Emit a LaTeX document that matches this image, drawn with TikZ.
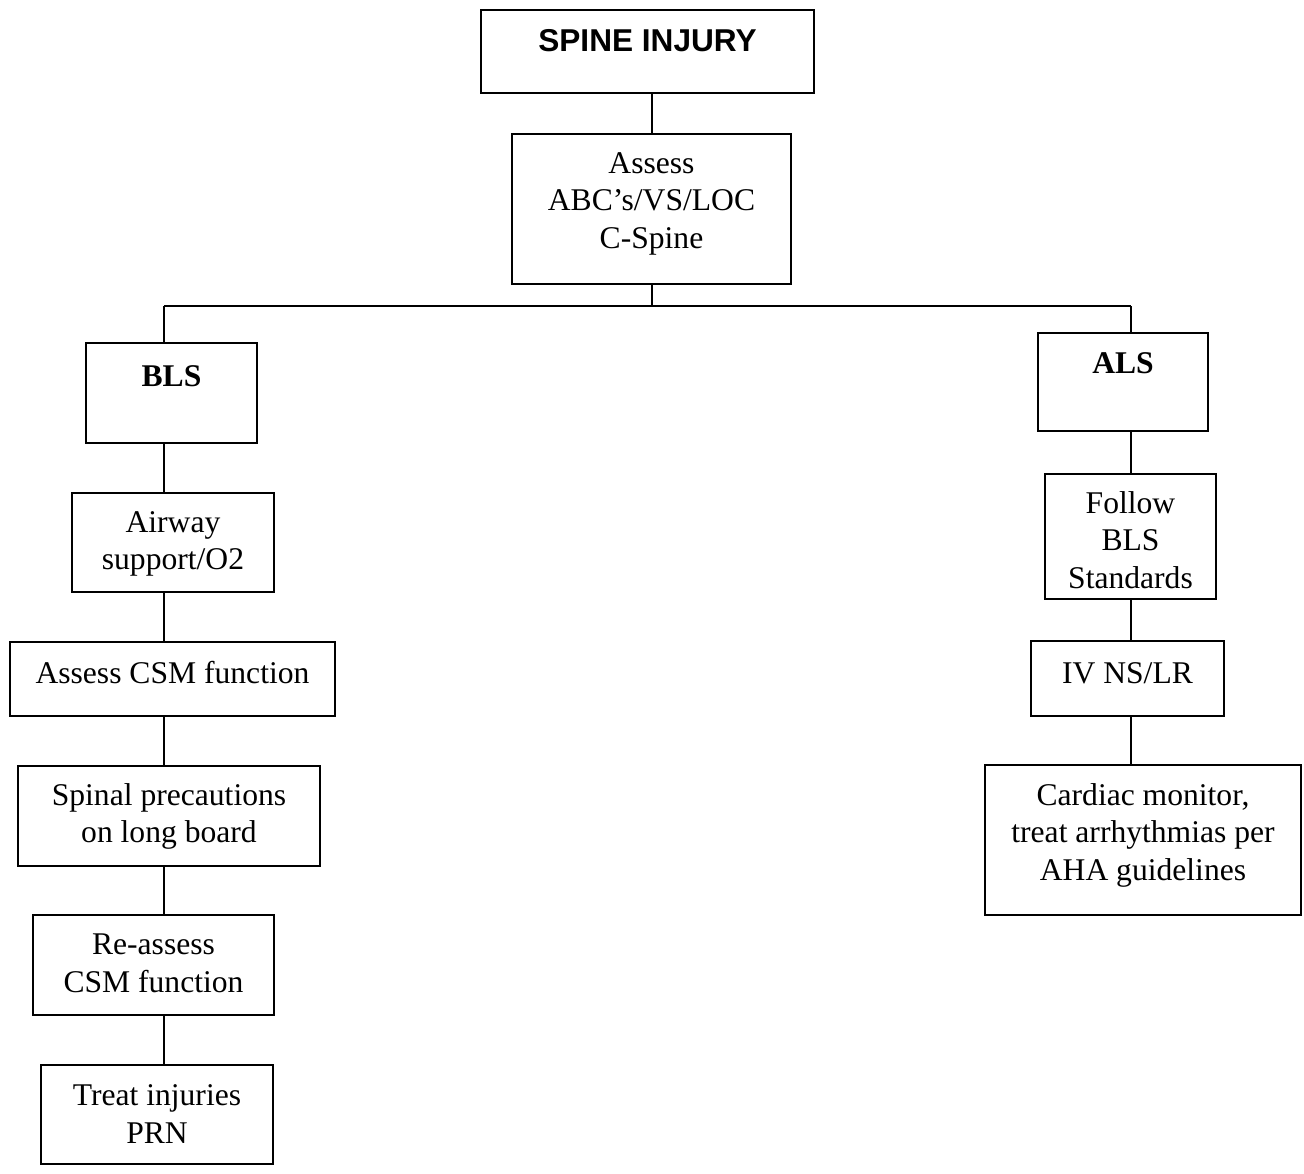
\documentclass[tikz,border=0pt]{standalone}
\usepackage{fontspec}
\setmainfont{Liberation Serif}
\newfontfamily\headfont{Liberation Sans}
\usetikzlibrary{positioning}

\tikzset{
  bx/.style 2 args={draw,line width=1pt,minimum width=#1*0.5pt,minimum height=#2*0.5pt,inner sep=0pt},
  txt/.style={font=\fontsize{15.8}{18.75}\selectfont,align=center,inner sep=0pt,execute at begin node=\strut},
  head/.style={txt,font=\headfont\bfseries\fontsize{15.8}{18.75}\selectfont},
  link/.style={line width=1pt}
}

\begin{document}
\begin{tikzpicture}[x=0.5pt,y=-0.5pt]
\useasboundingbox (0,0) rectangle (1304,1173);
% boxes
\node[bx={333}{83}] (spine) at (647.5,51.5) {};
\node[bx={279}{150}] (assess) at (651.5,209) {};
\node[bx={171}{100}] (bls) at (171.5,393) {};
\node[bx={202}{99}] (airway) at (173,542.5) {};
\node[bx={325}{74}] (csm) at (172.5,679) {};
\node[bx={302}{100}] (spinal) at (169,816) {};
\node[bx={241}{100}] (reassess) at (153.5,965) {};
\node[bx={232}{99}] (treat) at (157,1114.5) {};
\node[bx={170}{98}] (als) at (1123,382) {};
\node[bx={171}{125}] (follow) at (1130.5,536.5) {};
\node[bx={193}{75}] (iv) at (1127.5,678.5) {};
\node[bx={316}{150}] (cardiac) at (1143,840) {};

% texts
\node[head,below=7.9pt of spine.north] (spine-t) {SPINE INJURY};
\node[txt,below=9.4pt of assess.north] (assess-t) {Assess\\ABC’s/VS/LOC\\C-Spine};
\node[txt,font=\bfseries\fontsize{15.8}{18.75}\selectfont,below=8.9pt of bls.north] (bls-t) {BLS};
\node[txt,below=9.4pt of airway.north] (airway-t) {Airway\\support/O2};
\node[txt,below=8.1pt of csm.north] (csm-t) {Assess CSM function};
\node[txt,below=8.9pt of spinal.north] (spinal-t) {Spinal precautions\\on long board};
\node[txt,below=9.9pt of reassess.north] (reassess-t) {Re-assess\\CSM function};
\node[txt,below=10.2pt of treat.north] (treat-t) {Treat injuries\\PRN};
\node[txt,font=\bfseries\fontsize{15.8}{18.75}\selectfont,below=7.6pt of als.north] (als-t) {ALS};
\node[txt,below=8.9pt of follow.north] (follow-t) {Follow\\BLS\\Standards};
\node[txt,below=8.4pt of iv.north] (iv-t) {IV NS/LR};
\node[txt,below=9.4pt of cardiac.north] (cardiac-t) {Cardiac monitor,\\treat arrhythmias per\\AHA guidelines};

% connectors
\coordinate (busL) at (164,306);
\coordinate (busR) at (1131,306);
\coordinate (busM) at (assess.south |- busL);
\draw[link] (assess.north) -- (assess.north |- spine.south);
\draw[link] (assess.south) -- (busM);
\draw[link] (busL) -- (busR);
\draw[link] (busL) -- (busL |- bls.north);
\draw[link] (busR) -- (busR |- als.north);
\foreach \a/\b in {bls/airway,airway/csm,csm/spinal,spinal/reassess,reassess/treat}
  \draw[link] (busL |- \a.south) -- (busL |- \b.north);
\foreach \a/\b in {als/follow,follow/iv,iv/cardiac}
  \draw[link] (busR |- \a.south) -- (busR |- \b.north);
\end{tikzpicture}
\end{document}
